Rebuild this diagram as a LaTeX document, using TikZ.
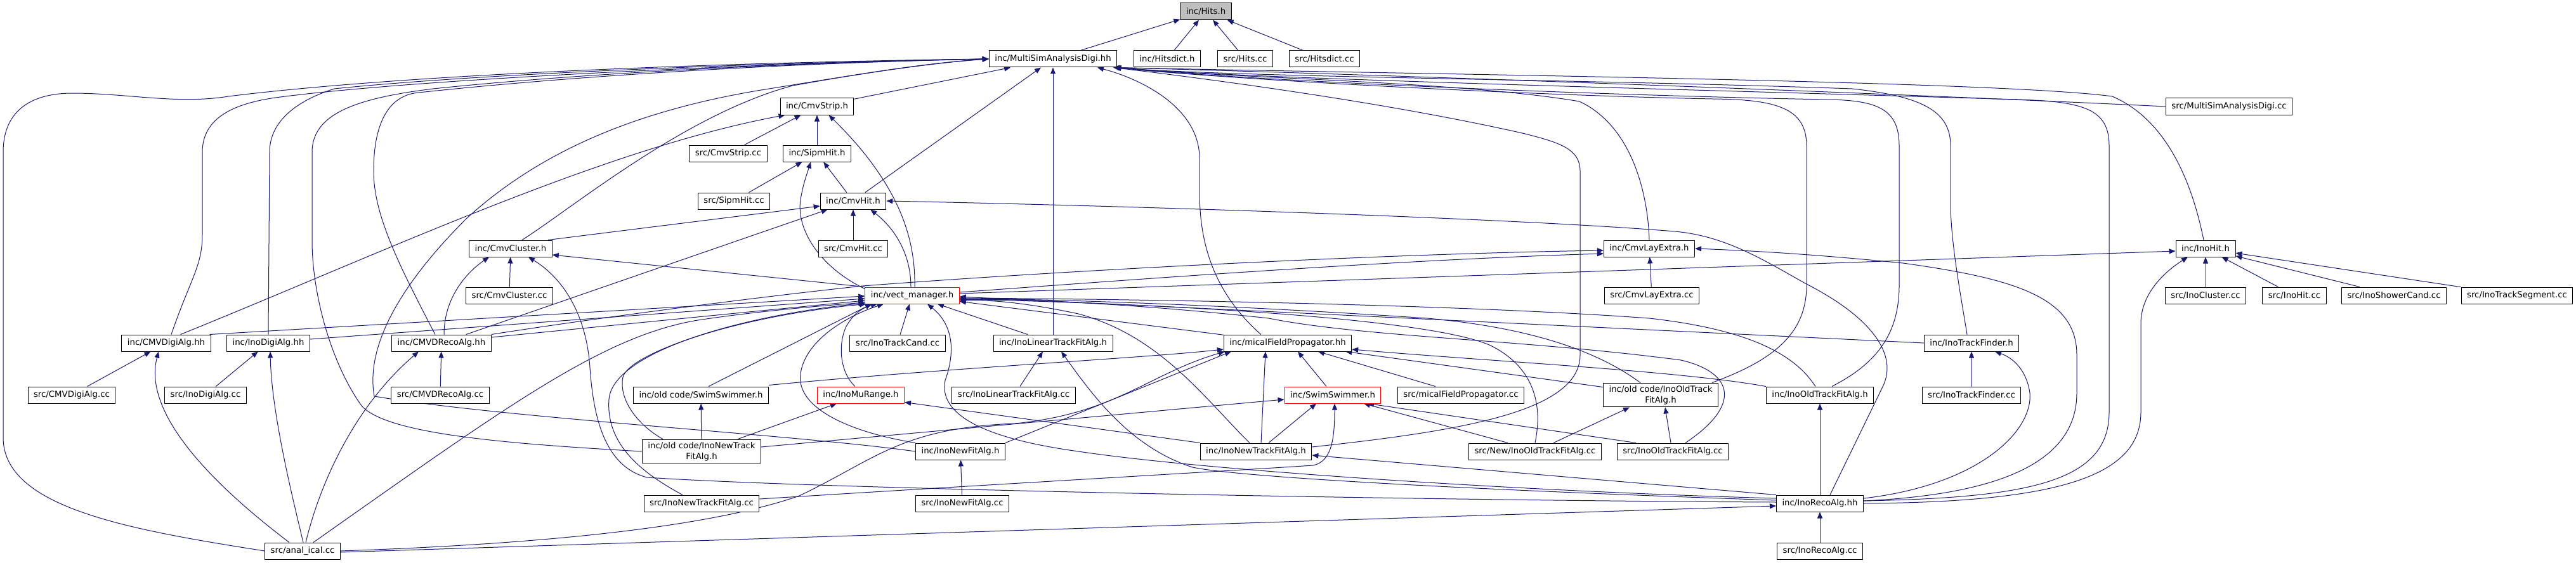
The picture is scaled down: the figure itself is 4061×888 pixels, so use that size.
\documentclass[tikz,border=0pt]{standalone}
\usepackage{fontspec}
\setmainfont{DejaVu Sans}
\usetikzlibrary{arrows.meta,backgrounds}
\definecolor{edgeBlue}{HTML}{191970}
\definecolor{rootGray}{HTML}{BFBFBF}
\definecolor{truncRed}{HTML}{FF0000}
\tikzset{
  filebox/.style={draw=black, fill=white, line width=1pt, inner xsep=9pt,
    inner ysep=4pt, minimum height=26pt, align=center,
    font=\fontsize{13.3}{17}\selectfont},
  rootbox/.style={filebox, fill=rootGray},
  truncbox/.style={filebox, draw=truncRed},
  dep/.style={draw=edgeBlue, line width=1pt,
    -{Triangle[length=10pt,width=8pt]}}
}
\begin{document}
\begin{tikzpicture}[x=1pt,y=-1pt]
\useasboundingbox (0,0) rectangle (4061,888);

\node[rootbox] (hits) at (1901,18) {inc/Hits.h};
\node[filebox] (msad) at (1660,93) {inc/MultiSimAnalysisDigi.hh};
\node[filebox] (hitsdict) at (1840,93) {inc/Hitsdict.h};
\node[filebox] (hitscc) at (1963,93) {src/Hits.cc};
\node[filebox] (hitsdictcc) at (2088,93) {src/Hitsdict.cc};
\node[filebox] (cmvstrip) at (1288,168) {inc/CmvStrip.h};
\node[filebox] (msadcc) at (3514,168) {src/MultiSimAnalysisDigi.cc};
\node[filebox] (cmvstripcc) at (1148,242) {src/CmvStrip.cc};
\node[filebox] (sipmhit) at (1288,242) {inc/SipmHit.h};
\node[filebox] (sipmhitcc) at (1157,317) {src/SipmHit.cc};
\node[filebox] (cmvhit) at (1345,317) {inc/CmvHit.h};
\node[filebox] (cmvhitcc) at (1345,392) {src/CmvHit.cc};
\node[filebox] (cmvcluster) at (805,392) {inc/CmvCluster.h};
\node[filebox] (cmvlayextra) at (2600,392) {inc/CmvLayExtra.h};
\node[filebox] (inohit) at (3477,392) {inc/InoHit.h};
\node[filebox] (cmvclustercc) at (803,466) {src/CmvCluster.cc};
\node[truncbox] (vect) at (1438,466) {inc/vect\_manager.h};
\node[filebox] (cmvlayextracc) at (2604,466) {src/CmvLayExtra.cc};
\node[filebox] (inoclustercc) at (3477,466) {src/InoCluster.cc};
\node[filebox] (inohitcc) at (3617,466) {src/InoHit.cc};
\node[filebox] (inoshowercc) at (3774,466) {src/InoShowerCand.cc};
\node[filebox] (inotracksegcc) at (3968,466) {src/InoTrackSegment.cc};
\node[filebox] (cmvdigialg) at (262,541) {inc/CMVDigiAlg.hh};
\node[filebox] (inodigialg) at (423,541) {inc/InoDigiAlg.hh};
\node[filebox] (cmvdrecoalg) at (696,541) {inc/CMVDRecoAlg.hh};
\node[filebox] (inotrackcandcc) at (1415,541) {src/InoTrackCand.cc};
\node[filebox] (inolinear) at (1660,541) {inc/InoLinearTrackFitAlg.h};
\node[filebox] (mical) at (2030,541) {inc/micalFieldPropagator.hh};
\node[filebox] (inotrackfinder) at (3108,541) {inc/InoTrackFinder.h};
\node[filebox] (cmvdigialgcc) at (113,623) {src/CMVDigiAlg.cc};
\node[filebox] (inodigialgcc) at (324,623) {src/InoDigiAlg.cc};
\node[filebox] (cmvdrecoalgcc) at (694,623) {src/CMVDRecoAlg.cc};
\node[filebox] (oldswim) at (1105,623) {inc/old code/SwimSwimmer.h};
\node[truncbox] (inomurange) at (1357,623) {inc/InoMuRange.h};
\node[filebox] (inolinearcc) at (1598,623) {src/InoLinearTrackFitAlg.cc};
\node[truncbox] (swim) at (2101,623) {inc/SwimSwimmer.h};
\node[filebox] (micalcc) at (2303,623) {src/micalFieldPropagator.cc};
\node[filebox] (oldinooldtrack) at (2618,623) {inc/old code/InoOldTrack\\FitAlg.h};
\node[filebox] (inooldtrack) at (2869,623) {inc/InoOldTrackFitAlg.h};
\node[filebox] (inotrackfindercc) at (3108,623) {src/InoTrackFinder.cc};
\node[filebox] (oldinonewtrack) at (1106,712) {inc/old code/InoNewTrack\\FitAlg.h};
\node[filebox] (inonewfit) at (1514,712) {inc/InoNewFitAlg.h};
\node[filebox] (inonewtrack) at (1980,712) {inc/InoNewTrackFitAlg.h};
\node[filebox] (newinooldtrackcc) at (2420,712) {src/New/InoOldTrackFitAlg.cc};
\node[filebox] (inooldtrackcc) at (2637,712) {src/InoOldTrackFitAlg.cc};
\node[filebox] (inonewtrackcc) at (1106,794) {src/InoNewTrackFitAlg.cc};
\node[filebox] (inonewfitcc) at (1517,794) {src/InoNewFitAlg.cc};
\node[filebox] (inorecoalg) at (2869,794) {inc/InoRecoAlg.hh};
\node[filebox] (analical) at (477,869) {src/anal\_ical.cc};
\node[filebox] (inorecoalgcc) at (2869,869) {src/InoRecoAlg.cc};

\begin{scope}[on background layer]
% into inc/Hits.h
\draw[dep] (msad) -- (hits);
\draw[dep] (hitsdict) -- (hits);
\draw[dep] (hitscc) -- (hits);
\draw[dep] (hitsdictcc) -- (hits);

% into inc/MultiSimAnalysisDigi.hh
\draw[dep] (cmvstrip) -- (msad);
\draw[dep] (cmvhit) -- (msad);
\draw[dep] (inolinear) -- (msad);
\draw[dep] ([xshift=59pt]mical.north west) .. controls (1900,450) and (1891,360) .. (1891,300) -- (1891,250) .. controls (1891,170) and (1800,125) .. ([xshift=70pt]msad.south);
\draw[dep] ([xshift=18pt]cmvcluster.north) .. controls (900,330) and (1080,180) .. (1250,135) .. controls (1400,108) and (1500,97) .. (msad.west);
\draw[dep] (analical.west) .. controls (200,835) and (5,800) .. (5,690) -- (5,240) .. controls (5,170) and (55,147) .. (114,147) .. controls (200,147) and (280,165) .. (360,152) .. controls (700,110) and (1300,96) .. (msad.west);
\draw[dep] ([xshift=8pt]cmvdigialg.north) .. controls (300,440) and (319,420) .. (319,370) -- (319,240) .. controls (319,185) and (370,162) .. (442,153) .. controls (700,120) and (1300,97) .. (msad.west);
\draw[dep] (inodigialg.north) -- (425,240) .. controls (425,190) and (470,158) .. (527,140) .. controls (800,112) and (1300,97) .. (msad.west);
\draw[dep] (oldinonewtrack.west) .. controls (800,700) and (610,685) .. (570,640) .. controls (520,570) and (492,460) .. (492,380) -- (492,240) .. controls (492,180) and (560,155) .. (683,140) .. controls (950,112) and (1300,98) .. (msad.west);
\draw[dep] ([xshift=-10pt]cmvdrecoalg.north) .. controls (630,420) and (589,340) .. (589,270) .. controls (589,190) and (615,150) .. (660,146) .. controls (950,115) and (1300,98) .. (msad.west);
\draw[dep] (inonewfit.west) .. controls (1250,685) and (800,660) .. (590,625) .. controls (575,540) and (640,440) .. (735,345) .. controls (850,240) and (1000,175) .. (1200,142) .. controls (1350,118) and (1450,100) .. (msad.west);
\draw[dep] ([xshift=-7pt]inotrackfinder.north) .. controls (3090,460) and (3075,380) .. (3075,320) -- (3075,230) .. controls (3075,175) and (3030,152) .. (2920,140) .. controls (2500,125) and (1950,122) .. ([xshift=-4pt]msad.south east);
\draw[dep] ([yshift=4pt]inorecoalg.east) .. controls (3200,785) and (3325,760) .. (3325,650) -- (3325,230) .. controls (3325,172) and (3285,160) .. (3180,157) .. controls (2700,142) and (1950,124) .. ([xshift=-4pt]msad.south east);
\draw[dep] ([xshift=-3pt]inohit.north) .. controls (3462,320) and (3430,195) .. (3330,152) .. controls (3150,128) and (2300,118) .. ([xshift=-6pt]msad.south east);
\draw[dep] (msadcc.west) .. controls (3000,148) and (2200,118) .. ([xshift=-6pt]msad.south east);
\draw[dep] (cmvlayextra.north) .. controls (2598,310) and (2575,200) .. (2490,160) .. controls (2300,128) and (1950,124) .. ([xshift=-4pt]msad.south east);
\draw[dep] ([xshift=81pt]oldinooldtrack.north) .. controls (2790,570) and (2848,530) .. (2848,450) -- (2848,230) .. controls (2848,170) and (2800,157) .. (2700,156) .. controls (2400,150) and (1950,126) .. ([xshift=-4pt]msad.south east);
\draw[dep] ([xshift=19pt]inooldtrack.north) .. controls (2955,575) and (2994,530) .. (2994,450) -- (2994,230) .. controls (2994,172) and (2960,158) .. (2880,157) .. controls (2500,150) and (1950,126) .. ([xshift=-4pt]msad.south east);
\draw[dep] ([yshift=7pt]inonewtrack.east) .. controls (2300,680) and (2491,650) .. (2491,560) -- (2491,270) .. controls (2491,235) and (2460,225) .. (2400,210) .. controls (2200,165) and (1950,130) .. ([xshift=-6pt]msad.south east);

% into inc/CmvStrip.h
\draw[dep] (cmvstripcc) -- (cmvstrip);
\draw[dep] (sipmhit) -- (cmvstrip);
\draw[dep] ([xshift=-48pt]cmvdigialg.north east) .. controls (600,400) and (950,235) .. ([xshift=8pt]cmvstrip.south west);
\draw[dep] ([xshift=4pt]vect.north) .. controls (1443,390) and (1428,300) .. ([xshift=-40pt]cmvstrip.south east);

% into inc/SipmHit.h
\draw[dep] (sipmhitcc) -- (sipmhit);
\draw[dep] (cmvhit) -- (sipmhit);
\draw[dep] ([yshift=-3pt]vect.north west) .. controls (1290,420) and (1255,360) .. (1262,315) .. controls (1266,290) and (1272,275) .. ([xshift=-10pt]sipmhit.south);

% into inc/CmvHit.h
\draw[dep] (cmvhitcc) -- (cmvhit);
\draw[dep] ([xshift=-7pt]cmvcluster.north east) -- ([yshift=-8pt]cmvhit.west);
\draw[dep] ([xshift=-40pt]cmvdrecoalg.north east) -- ([xshift=12pt]cmvhit.south west);
\draw[dep] ([xshift=-2pt]vect.north) .. controls (1436,400) and (1410,360) .. ([xshift=-25pt]cmvhit.south east);
\draw[dep] ([xshift=16pt]inorecoalg.north) -- (2968,610) .. controls (2993,559) and (2950,500) .. (2846,447) .. controls (2780,410) and (2720,372) .. (2640,365) .. controls (2400,345) and (1800,325) .. (cmvhit.east);

% into inc/CmvCluster.h
\draw[dep] (cmvclustercc) -- (cmvcluster);
\draw[dep] ([xshift=4pt]cmvdrecoalg.north) .. controls (700,470) and (735,430) .. ([xshift=-34pt]cmvcluster.south);
\draw[dep] (vect.north west) -- ([yshift=-10pt]cmvcluster.east);
\draw[dep] ([yshift=2pt]inorecoalg.west) .. controls (2300,790) and (1300,772) .. (1020,753) .. controls (950,735) and (935,650) .. (930,580) .. controls (925,500) and (890,440) .. ([xshift=28pt]cmvcluster.south);

% into inc/CmvLayExtra.h
\draw[dep] (cmvlayextracc) -- (cmvlayextra);
\draw[dep] ([yshift=5pt]vect.east) .. controls (1800,440) and (2200,410) .. ([yshift=-8pt]cmvlayextra.west);
\draw[dep] (cmvdrecoalg.north east) .. controls (950,500) and (1200,468) .. (1360,451) .. controls (1700,425) and (2200,400) .. ([yshift=-3pt]cmvlayextra.west);
\draw[dep] ([yshift=4pt]inorecoalg.east) .. controls (3150,780) and (3274,730) .. (3274,620) -- (3274,560) .. controls (3274,470) and (3180,440) .. (3000,415) .. controls (2850,400) and (2750,395) .. (cmvlayextra.east);

% into inc/InoHit.h
\draw[dep] (inoclustercc) -- (inohit);
\draw[dep] (inohitcc) -- (inohit);
\draw[dep] (inoshowercc) -- (inohit);
\draw[dep] (inotracksegcc) -- (inohit);
\draw[dep] ([yshift=3pt]vect.east) -- ([yshift=-4pt]inohit.west);
\draw[dep] (inorecoalg.east) .. controls (3250,792) and (3375,750) .. (3375,650) -- (3375,510) .. controls (3375,465) and (3410,430) .. ([xshift=-28pt]inohit.south);

% into inc/InoTrackFinder.h
\draw[dep] (inotrackfindercc) -- (inotrackfinder);
\draw[dep] ([yshift=8pt]inorecoalg.east) .. controls (3120,765) and (3205,680) .. (3200,620) .. controls (3195,585) and (3175,565) .. ([xshift=37pt]inotrackfinder.south);

% into inc/vect_manager.h
\draw[dep] ([xshift=-2pt]cmvdigialg.north east) -- ([yshift=-1pt]vect.west);
\draw[dep] ([yshift=6pt]inodigialg.east) -- ([yshift=-5pt]vect.west);
\draw[dep] ([yshift=9pt]cmvdrecoalg.east) -- ([yshift=-8pt]vect.west);
\draw[dep] ([xshift=17pt]analical.north) .. controls (800,640) and (950,530) .. (1100,505) .. controls (1200,490) and (1300,482) .. ([yshift=-11pt]vect.west);
\draw[dep] (inotrackcandcc) -- (vect);
\draw[dep] (inolinear) -- (vect);
\draw[dep] (mical) -- (vect);
\draw[dep] (inotrackfinder.west) -- ([yshift=-2pt]vect.east);
\draw[dep] ([xshift=12pt]oldswim.north) -- ([xshift=-64pt]vect.south);
\draw[dep] ([xshift=-9pt]inomurange.north) .. controls (1322,585) and (1322,540) .. (1334,515) .. controls (1345,495) and (1360,485) .. ([xshift=-55pt]vect.south);
\draw[dep] (inonewfit.north west) .. controls (1330,680) and (1255,640) .. (1262,590) .. controls (1268,540) and (1330,500) .. ([xshift=-45pt]vect.south);
\draw[dep] ([xshift=33pt]oldinonewtrack.north west) .. controls (1005,670) and (975,630) .. (982,595) .. controls (990,560) and (1150,500) .. ([xshift=2pt]vect.south west);
\draw[dep] ([xshift=-30pt]inonewtrackcc.north) .. controls (1010,745) and (955,700) .. (960,630) .. controls (965,560) and (1150,500) .. ([yshift=-12pt]vect.west);
\draw[dep] ([xshift=-10pt]inonewtrack.north) .. controls (1900,630) and (1830,530) .. (1700,495) .. controls (1620,478) and (1560,472) .. ([yshift=-9pt]vect.east);
\draw[dep] ([yshift=8pt]inorecoalg.west) .. controls (2400,775) and (1900,742) .. (1700,712) .. controls (1540,690) and (1480,650) .. (1490,600) .. controls (1508,550) and (1500,510) .. ([xshift=24pt]vect.south);
\draw[dep] ([xshift=-7pt]inooldtrack.north) .. controls (2830,560) and (2760,520) .. (2600,502) .. controls (2300,480) and (1800,472) .. ([yshift=-4pt]vect.east);
\draw[dep] (newinooldtrackcc.north) .. controls (2432,640) and (2420,580) .. (2350,545) .. controls (2250,500) and (1800,478) .. ([yshift=-6pt]vect.east);
\draw[dep] ([xshift=-32pt]oldinooldtrack.north) .. controls (2540,570) and (2450,520) .. (2250,502) .. controls (2000,485) and (1700,472) .. ([yshift=-5pt]vect.east);
\draw[dep] ([xshift=20pt]inooldtrackcc.north) .. controls (2745,640) and (2735,588) .. (2650,568) .. controls (2400,535) and (2150,532) .. (2000,502) .. controls (1800,480) and (1600,470) .. ([yshift=-7pt]vect.east);

% into inc/CMVDigiAlg.hh, inc/InoDigiAlg.hh, inc/CMVDRecoAlg.hh
\draw[dep] (cmvdigialgcc) -- (cmvdigialg);
\draw[dep] ([xshift=-21pt]analical.north) .. controls (330,760) and (225,650) .. ([xshift=-12pt]cmvdigialg.south);
\draw[dep] (inodigialgcc) -- (inodigialg);
\draw[dep] ([xshift=1pt]analical.north) .. controls (460,780) and (428,650) .. ([xshift=3pt]inodigialg.south);
\draw[dep] (cmvdrecoalgcc) -- (cmvdrecoalg);
\draw[dep] ([xshift=5pt]analical.north) .. controls (505,760) and (560,640) .. ([xshift=-36pt]cmvdrecoalg.south);

% into inc/InoLinearTrackFitAlg.h
\draw[dep] ([xshift=10pt]inolinearcc.north) -- ([xshift=-16pt]inolinear.south);
\draw[dep] ([yshift=5pt]inorecoalg.west) .. controls (2300,772) and (1950,752) .. (1880,737) .. controls (1780,705) and (1720,620) .. ([xshift=13pt]inolinear.south);

% into the old code headers and inc/InoMuRange.h
\draw[dep] (oldinonewtrack) -- (oldswim);
\draw[dep] ([xshift=57pt]oldinonewtrack.north) -- ([xshift=-38pt]inomurange.south);
\draw[dep] (inonewtrack.north west) -- ([yshift=2pt]inomurange.south east);
\draw[dep] ([xshift=29pt]newinooldtrackcc.north) -- ([xshift=-49pt]oldinooldtrack.south);
\draw[dep] ([xshift=-3pt]inooldtrackcc.north) -- ([xshift=7pt]oldinooldtrack.south);

% into inc/InoNewFitAlg.h, inc/InoNewTrackFitAlg.h
\draw[dep] (inonewfitcc) -- (inonewfit);
\draw[dep] (inorecoalg.north west) -- ([yshift=-6pt]inonewtrack.east);

% into inc/SwimSwimmer.h
\draw[dep] ([xshift=20pt]inonewtrack.north) -- ([xshift=-26pt]swim.south);
\draw[dep] ([xshift=-43pt]newinooldtrackcc.north) -- ([xshift=49pt]swim.south);
\draw[dep] ([xshift=-58pt]inooldtrackcc.north) -- ([xshift=55pt]swim.south);
\draw[dep] ([yshift=7pt]inonewtrackcc.east) .. controls (1600,762) and (1950,742) .. (2070,734) .. controls (2100,728) and (2104,690) .. ([xshift=3pt]swim.south);
\draw[dep] ([yshift=7pt]oldinonewtrack.east) -- ([yshift=-7pt]swim.west);

% into inc/InoOldTrackFitAlg.h, inc/InoRecoAlg.hh
\draw[dep] (inorecoalg) -- (inooldtrack);
\draw[dep] (inorecoalgcc) -- (inorecoalg);
\draw[dep] ([yshift=-2pt]analical.east) -- ([yshift=-4pt]inorecoalg.west);

% into inc/micalFieldPropagator.hh
\draw[dep] ([xshift=-40pt]micalcc.north) -- ([xshift=48pt]mical.south);
\draw[dep] ([xshift=-10pt]swim.north) -- ([xshift=16pt]mical.south);
\draw[dep] ([yshift=2pt]oldswim.north east) .. controls (1500,580) and (1800,565) .. ([yshift=-10pt]mical.west);
\draw[dep] (analical.east) .. controls (800,860) and (1100,838) .. (1260,782) .. controls (1380,725) and (1420,675) .. (1600,668) .. controls (1760,652) and (1810,590) .. ([xshift=2pt]mical.south west);
\draw[dep] (inonewfit.north east) -- ([xshift=12pt]mical.south west);
\draw[dep] ([xshift=8pt]inonewtrack.north) -- ([xshift=-35pt]mical.south);
\draw[dep] ([yshift=-7pt]oldinooldtrack.north west) -- ([xshift=-10pt]mical.south east);
\draw[dep] (inooldtrack.north west) .. controls (2650,585) and (2350,570) .. ([yshift=-10pt]mical.east);
\end{scope}
\end{tikzpicture}
\end{document}
